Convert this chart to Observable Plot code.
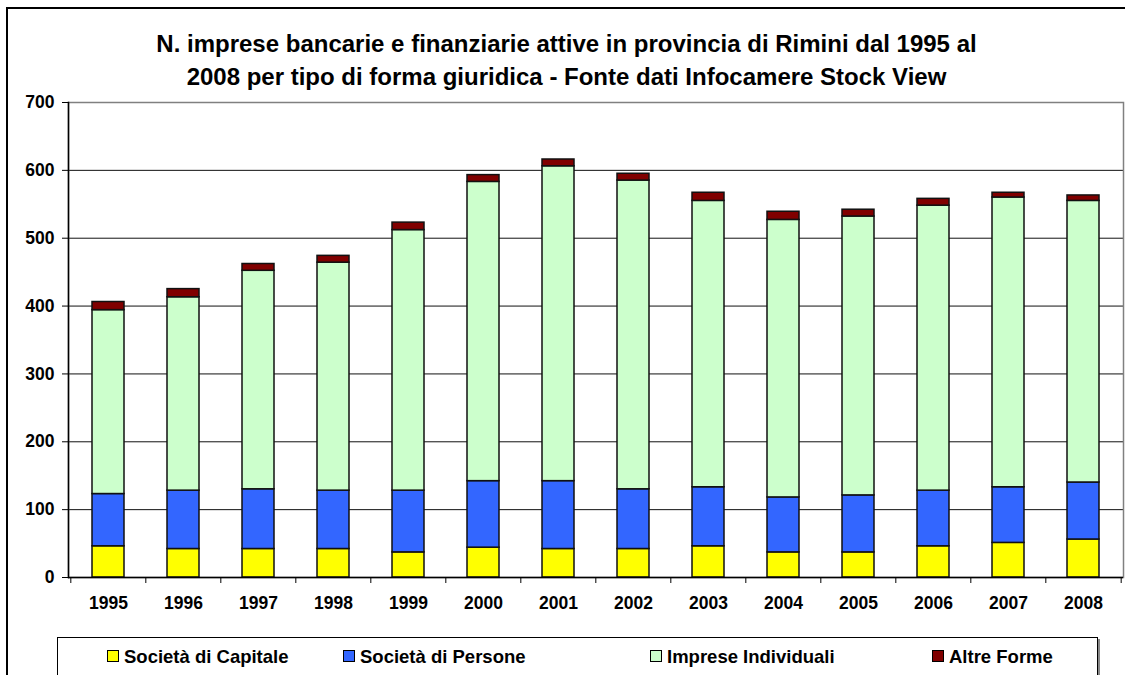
<!DOCTYPE html>
<html><head><meta charset="utf-8">
<script src="https://cdn.jsdelivr.net/npm/d3@7"></script>
<script src="https://cdn.jsdelivr.net/npm/@observablehq/plot@0.6"></script>
<style>
body{margin:0;background:#fff;font-family:"Liberation Sans",Arial,sans-serif;}
#wrap{position:relative;width:1125px;height:675px;overflow:hidden;background:#fff;}
#frame{position:absolute;left:6px;top:7px;width:1200px;height:800px;border-left:2px solid #000;border-top:2px solid #000;}
#title{position:absolute;left:4px;width:1125px;top:27px;text-align:center;font-weight:bold;font-size:24px;line-height:33px;color:#000;}
#chart{position:absolute;left:0;top:90px;}
#legend{position:absolute;left:57px;top:637px;width:1039px;height:40px;border:1px solid #000;box-shadow:2px 2px 0 #888;background:#fff;}
.li{position:absolute;top:8px;font-weight:bold;font-size:18.5px;line-height:22px;white-space:nowrap;}
.sw{display:inline-block;width:10px;height:10px;border:1px solid #000;margin-right:5px;vertical-align:1px;}
</style></head>
<body>
<div id="wrap">
  <div id="frame"></div>
  <div id="title">N. imprese bancarie e finanziarie attive in provincia di Rimini dal 1995 al<br>2008 per tipo di forma giuridica - Fonte dati Infocamere Stock View</div>
  <div id="chart"></div>
  <div id="legend"></div>
</div>
<script>
const years = ["1995","1996","1997","1998","1999","2000","2001","2002","2003","2004","2005","2006","2007","2008"];
const seriesNames = ["Società di Capitale","Società di Persone","Imprese Individuali","Altre Forme"];
const seriesColors = ["#FFFF00","#3366FF","#CCFFCC","#800000"];
const societaCapitale   = [46, 42, 42, 42, 37, 44, 42, 42, 46, 37, 37, 46, 51, 56];
const societaPersone    = [77, 86, 88, 86, 91, 98, 100, 88, 87, 81, 84, 82, 82, 84];
const impreseIndividuali= [271, 285, 322, 336, 384, 441, 464, 455, 422, 409, 411, 420, 427, 415];
const altreForme        = [12, 12, 10, 10, 11, 10, 10, 10, 12, 12, 10, 10, 7, 8];
const yTicks = [0,100,200,300,400,500,600,700];

const seriesValues = [societaCapitale, societaPersone, impreseIndividuali, altreForme];
const data = [];
seriesNames.forEach((s, si) => years.forEach((y, i) => data.push({year: y, series: s, value: seriesValues[si][i]})));

const W = 1125, H = 540, mL = 68, mR = 2, mT = 12, mB = 53;
const step = (W - mL - mR) / years.length;
const innerH = H - mT - mB;
const font = {fontSize: 17.5, fontWeight: "bold", fill: "#000"};

const chart = Plot.plot({
  width: W, height: H,
  marginLeft: mL, marginRight: mR, marginTop: mT, marginBottom: mB,
  style: {fontFamily: '"Liberation Sans", Arial, sans-serif', background: "transparent", overflow: "visible"},
  x: {domain: years, paddingInner: 0.58, paddingOuter: 0.29, axis: null, label: null},
  y: {domain: [0, 700], axis: null, label: null},
  color: {domain: seriesNames, range: seriesColors},
  marks: [
    Plot.ruleY(yTicks.filter(t => t > 0 && t < 700), {stroke: "#111", strokeWidth: 1}),
    Plot.frame({stroke: "#808080", strokeWidth: 1.5}),
    Plot.barY(data, Plot.stackY({x: "year", y: "value", fill: "series", stroke: "#111", strokeWidth: 1.5})),
    Plot.ruleX(years, {x: d => d, dx: -step / 2, insetTop: innerH, insetBottom: -6, stroke: "#000", strokeWidth: 1}),
    Plot.ruleX(years.slice(-1), {x: d => d, dx: step / 2, insetTop: innerH, insetBottom: -6, stroke: "#000", strokeWidth: 1}),
    Plot.ruleY([0], {stroke: "#000", strokeWidth: 1.5}),
    Plot.frame({anchor: "left", stroke: "#000", strokeWidth: 1.5}),
    Plot.axisY({ticks: yTicks, tickSize: 6, tickPadding: 8, stroke: "#000", label: null, ...font}),
    Plot.axisX({tickSize: 0, tickPadding: 19, label: null, ...font})
  ]
});
document.getElementById("chart").appendChild(chart);

const legendLefts = [49, 285, 592, 874];
const legend = document.getElementById("legend");
seriesNames.forEach((s, i) => {
  const d = document.createElement("div");
  d.className = "li";
  d.style.left = legendLefts[i] + "px";
  d.innerHTML = `<span class="sw" style="background:${seriesColors[i]}"></span>${s}`;
  legend.appendChild(d);
});
</script>
</body></html>
